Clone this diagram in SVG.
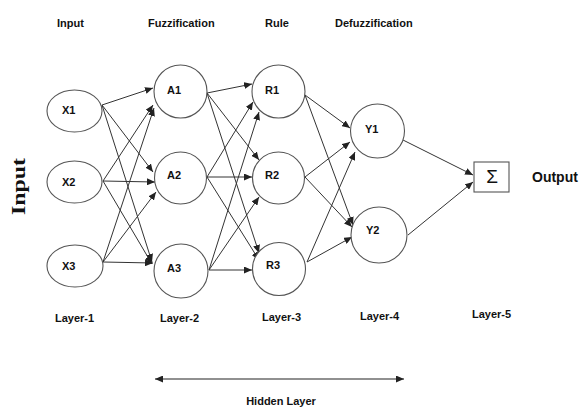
<svg xmlns="http://www.w3.org/2000/svg" width="579" height="410" viewBox="0 0 579 410">
<defs>
<marker id="arr" markerUnits="userSpaceOnUse" markerWidth="9" markerHeight="7" refX="8" refY="3.5" orient="auto">
<path d="M0,0 L8,3.5 L0,7 z" fill="#222"/>
</marker>
<marker id="arrs" markerUnits="userSpaceOnUse" markerWidth="9" markerHeight="7" refX="0" refY="3.5" orient="auto">
<path d="M8,0 L0,3.5 L8,7 z" fill="#222"/>
</marker>
<style>
.n{fill:#fff;stroke:#555;stroke-width:1.1}
.t{font-family:"Liberation Sans",Arial,sans-serif;font-weight:bold;font-size:11px;fill:#111}
.c line{stroke:#333;stroke-width:1;marker-end:url(#arr)}
</style>
</defs>
<rect width="579" height="410" fill="#fff"/>
<g id="headers">
<text class="t" x="57" y="27">Input</text>
<text class="t" x="148" y="27">Fuzzification</text>
<text class="t" x="265" y="27">Rule</text>
<text class="t" x="335" y="27">Defuzzification</text>
</g>
<text transform="translate(25,186.5) rotate(-90)" text-anchor="middle" font-family="Liberation Serif,serif" font-weight="bold" font-size="19" textLength="57" lengthAdjust="spacingAndGlyphs" fill="#111">Input</text>
<g class="c" id="connectors">
<line x1="102" y1="105" x2="153" y2="88"/>
<line x1="102" y1="105" x2="153" y2="172"/>
<line x1="102" y1="105" x2="152" y2="262"/>
<line x1="103" y1="181" x2="153" y2="105"/>
<line x1="103" y1="181" x2="155" y2="182"/>
<line x1="103" y1="181" x2="152" y2="264"/>
<line x1="103" y1="262" x2="154" y2="108"/>
<line x1="103" y1="262" x2="156" y2="192"/>
<line x1="103" y1="262" x2="153" y2="263"/>
<line x1="207" y1="93" x2="252" y2="84"/>
<line x1="207" y1="93" x2="259" y2="160"/>
<line x1="207" y1="93" x2="259" y2="253"/>
<line x1="207" y1="177" x2="253" y2="102"/>
<line x1="207" y1="177" x2="252" y2="177"/>
<line x1="207" y1="177" x2="259" y2="260"/>
<line x1="209" y1="270" x2="259" y2="112"/>
<line x1="209" y1="270" x2="259" y2="197"/>
<line x1="209" y1="270" x2="252" y2="270"/>
<line x1="305" y1="95" x2="350" y2="128"/>
<line x1="305" y1="95" x2="353" y2="225"/>
<line x1="305" y1="177" x2="350" y2="142"/>
<line x1="305" y1="177" x2="352" y2="227"/>
<line x1="307" y1="262" x2="355" y2="152"/>
<line x1="307" y1="262" x2="352" y2="237"/>
<line x1="403" y1="140" x2="473" y2="175"/>
<line x1="408" y1="235" x2="473" y2="182"/>
</g>
<g id="X1"><ellipse class="n" cx="74.5" cy="111" rx="27.5" ry="21"/><text class="t" x="62" y="114">X1</text></g>
<g id="X2"><ellipse class="n" cx="74.5" cy="182" rx="27.5" ry="21"/><text class="t" x="62" y="186">X2</text></g>
<g id="X3"><ellipse class="n" cx="75" cy="266" rx="28" ry="21"/><text class="t" x="62" y="270">X3</text></g>
<g id="A1"><circle class="n" cx="180.5" cy="91.5" r="26.5"/><text class="t" x="167" y="94">A1</text></g>
<g id="A2"><circle class="n" cx="180.5" cy="178" r="26"/><text class="t" x="167" y="179">A2</text></g>
<g id="A3"><circle class="n" cx="181" cy="271" r="27"/><text class="t" x="167" y="272">A3</text></g>
<g id="R1"><circle class="n" cx="278.5" cy="91.5" r="26.5"/><text class="t" x="265" y="94">R1</text></g>
<g id="R2"><circle class="n" cx="278.5" cy="178" r="26"/><text class="t" x="265" y="179">R2</text></g>
<g id="R3"><circle class="n" cx="279" cy="269" r="26.5"/><text class="t" x="266" y="269">R3</text></g>
<g id="Y1"><circle class="n" cx="377.5" cy="131" r="27"/><text class="t" x="365" y="133">Y1</text></g>
<g id="Y2"><circle class="n" cx="379" cy="235" r="28"/><text class="t" x="366" y="234">Y2</text></g>
<g id="Sum"><rect class="n" x="474" y="162" width="35" height="30"/><text x="492" y="183" text-anchor="middle" font-family="Liberation Sans,sans-serif" font-size="19" fill="#111">Σ</text></g>
<text class="t" x="532" y="182" style="font-size:14px">Output</text>
<g id="layers">
<text class="t" x="55" y="322">Layer-1</text>
<text class="t" x="160" y="322">Layer-2</text>
<text class="t" x="262" y="321">Layer-3</text>
<text class="t" x="360" y="320">Layer-4</text>
<text class="t" x="472" y="318">Layer-5</text>
</g>
<g id="hidden">
<line x1="155" y1="379" x2="404" y2="379" stroke="#222" stroke-width="1.2" marker-start="url(#arrs)" marker-end="url(#arr)"/>
<text class="t" x="281" y="405" text-anchor="middle">Hidden Layer</text>
</g>
</svg>
